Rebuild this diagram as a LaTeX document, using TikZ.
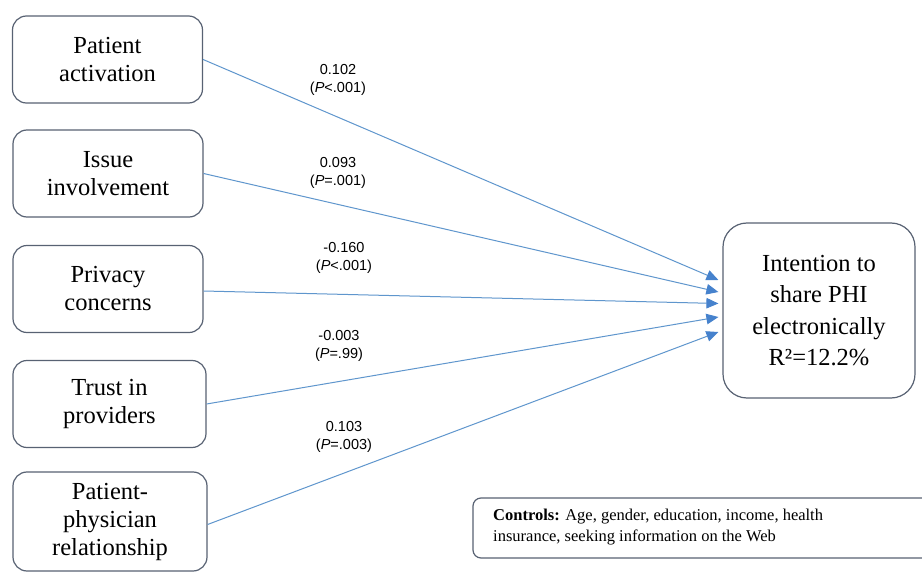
\documentclass[tikz,border=0pt]{standalone}
\usepackage{fontspec}
\setmainfont{Liberation Serif}
\newfontfamily\lserif{Liberation Serif}
\newfontfamily\lsans{Liberation Sans}
\usetikzlibrary{arrows.meta,calc}
\definecolor{boxline}{RGB}{88,98,115}
\definecolor{arrline}{RGB}{95,150,205}
\definecolor{arrhead}{RGB}{70,130,205}
\tikzset{
  varbox/.style={draw=boxline, line width=1.2pt, rounded corners=14pt, align=center,
    minimum width=190pt, minimum height=87pt, inner sep=2pt,
    font=\lserif\fontsize{24.5}{28}\selectfont},
  outbox/.style={draw=boxline, line width=1.2pt, rounded corners=24pt, align=center,
    minimum width=192pt, minimum height=175pt, inner sep=2pt,
    font=\lserif\fontsize{24.5}{31.5}\selectfont},
  ctrlbox/.style={draw=boxline, line width=1.2pt, rounded corners=8pt},
  coef/.style={align=center, font=\lsans\fontsize{14.5}{18}\selectfont, inner sep=0pt},
  causal/.style={draw=arrline, line width=1pt, -{Triangle[length=12pt,width=10.5pt,fill=arrhead,color=arrhead]}}
}
\begin{document}
\begin{tikzpicture}[x=1pt,y=-1pt]
\fill[white] (0,0) rectangle (922,572);
\useasboundingbox (0,0) rectangle (922,572);
\clip (0,0) rectangle (922,572);

\node[varbox] (pa) at (107.5,59.5) {Patient\\activation};
\node[varbox] (ii) at (108,173.5) {Issue\\involvement};
\node[varbox] (pc) at (108,289) {Privacy\\concerns};
\node[varbox, minimum width=193pt] (tp) at (109.5,404) {Trust in\\providers};
\node[varbox, minimum width=194pt, minimum height=99pt] (ppr) at (110,521.5) {Patient-\\physician\\relationship};

\node[outbox] (out) at (819,310.5) {Intention to\\share PHI\\electronically\\R²=12.2\%};

\coordinate (t1) at ($(out.west)+(-4,-30.5)$);
\coordinate (t2) at ($(out.west)+(-4,-18.5)$);
\coordinate (t3) at ($(out.west)+(-4,-7)$);
\coordinate (t4) at ($(out.west)+(-4,6.5)$);
\coordinate (t5) at ($(out.west)+(-4,21.5)$);

\draw[causal] (pa.east) -- (t1);
\draw[causal] (ii.east) -- (t2);
\draw[causal] ([yshift=-2pt]pc.east) -- (t3);
\draw[causal] (tp.east) -- (t4);
\draw[causal] ([yshift=-3pt]ppr.east) -- (t5);

\node[coef] (l1) at (338,80) {0.102\\(\textit{P}<.001)};
\node[coef] (l2) at (338,173) {0.093\\(\textit{P}=.001)};
\node[coef] (l3) at (344,258) {-0.160\\(\textit{P}<.001)};
\node[coef] (l4) at (339,346) {-0.003\\(\textit{P}=.99)};
\node[coef] (l5) at (344,437) {0.103\\(\textit{P}=.003)};

\draw[ctrlbox] (473,498) rectangle (940,558);
\node[anchor=north west, align=left, inner sep=0pt, font=\lserif\fontsize{16.5}{21}\selectfont] (ctrl) at (493,509)
  {\textbf{Controls:} Age, gender, education, income, health\\insurance, seeking information on the Web};
\end{tikzpicture}
\end{document}
